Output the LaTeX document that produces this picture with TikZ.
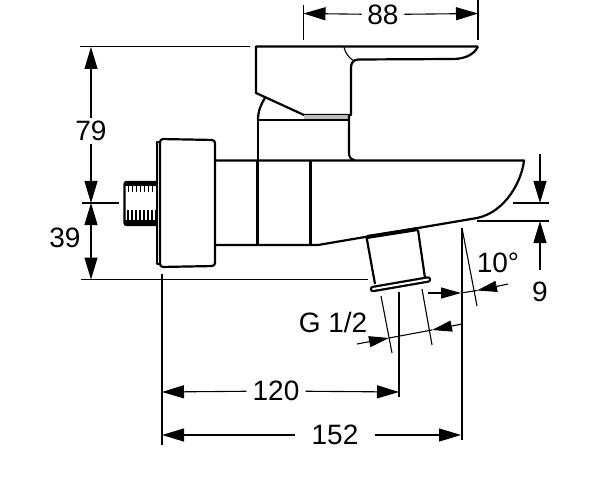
\documentclass[tikz,border=0pt]{standalone}
\usepackage{fontspec}
\setmainfont{Liberation Sans}
\usetikzlibrary{arrows.meta}
\tikzset{
  outline/.style={line width=2.2pt,line join=round},
  thinline/.style={line width=1.1pt},
  dimline/.style={line width=1.1pt,-{Triangle[length=22pt,width=13pt]}},
  smallarrow/.style={line width=1.1pt,-{Triangle[length=20pt,width=11pt]}},
  dimtext/.style={font=\fontsize{28}{28}\selectfont,inner sep=3pt}
}
\begin{document}
\begin{tikzpicture}[x=1pt,y=-1pt]
\useasboundingbox (0,0) rectangle (600,500);
% lever
\draw[outline] (478,46.5) -- (256,46.5) -- (256,93) -- (304,115) -- (351,115)
  -- (351,68) .. controls (351,63) and (353,60) .. (358,59.5) -- (453,59)
  .. controls (464,59) and (474,55) .. (478,46.5);
\draw[thinline] (344,47) .. controls (345,53) and (349,58) .. (354,61);
\draw[line width=1pt,fill=black!25] (304,115) -- (348,115) -- (348,120) -- (304,120);
% collar
\draw[outline] (265,98) .. controls (261,104) and (258,111) .. (258,120);
\draw[outline] (258,160) -- (258,120) -- (349,120);
\draw[outline] (349,115) -- (349,153) .. controls (349,157) and (351,160) .. (355,160);
% body
\draw[outline] (216,160.5) -- (524,160.5) .. controls (522,180) and (506,212) .. (477,218)
  -- (318,245) -- (216,245);
\draw[outline] (257.5,160) -- (257.5,245);
\draw[outline] (310.5,160) -- (310.5,245);
% flange
\draw[outline,rounded corners=3pt] (160,139) -- (215,140) -- (215,266) -- (160,267) -- cycle;
\draw[outline] (160,142) -- (157,142) -- (157,264) -- (160,264);
% connection thread
\draw[outline,rounded corners=2pt] (157,182) -- (124.5,182) -- (124.5,225) -- (157,225);
\fill (124.5,182) rectangle (157,185);
\fill (124.5,220) rectangle (157,225);
\foreach \x in {128,132,...,156}{
  \draw[line width=0.8pt] (\x,184) -- (\x,192);
  \draw[line width=1.6pt] (\x,210) -- (\x,221);
}
\draw[line width=1.4pt] (124.5,185) -- (157,185);
% spout outlet
\draw[outline] (366.5,237) -- (375,284);
\draw[outline] (418,230) -- (425,278);
\draw[line width=4pt] (367,237) -- (418,229);
\draw[line width=6.5pt,line cap=round] (373,289) -- (428,279.5);
\draw[line width=2pt,line cap=round,white] (373,289) -- (428,279.5);
% extension lines
\draw[thinline] (303.5,5) -- (303.5,40);
\draw[thinline] (478,0) -- (478,40);
\draw[thinline] (80,46.5) -- (250,46.5);
\draw[thinline] (82,203) -- (119,203);
\draw[line width=1.4pt] (81,279.5) -- (368,279.5);
\draw[thinline] (162,274) -- (162,445);
\draw[thinline] (399,292) -- (399,397);
\draw[thinline] (462,228) -- (462,440);
\draw[thinline] (462,228) -- (477,306);
\draw[thinline] (381,296) -- (392,353);
\draw[thinline] (422,289) -- (432,345);
\draw[thinline] (513,203) -- (549,203);
\draw[thinline] (477,221) -- (549,221);
% dimensions
\coordinate (l88) at (303.5,13.5);
\coordinate (r88) at (478,13.5);
\node[dimtext,inner xsep=5.5pt] (t88) at (383,14.5) {88};
\draw[dimline] (t88) -- (l88);
\draw[dimline] (t88) -- (r88);

\coordinate (a79) at (91,47);
\coordinate (b79) at (91,203);
\node[dimtext] (t79) at (91,131) {79};
\draw[dimline] (t79) -- (a79);
\draw[dimline] (t79) -- (b79);

\node[dimtext] (t39) at (65,238) {39};
\coordinate (m39) at (91,240);
\coordinate (b39) at (91,279.5);
\draw[dimline] (m39) -- (b79);
\draw[dimline] (m39) -- (b39);

\coordinate (l120) at (162,392);
\coordinate (r120) at (399,392);
\node[dimtext,inner xsep=6pt] (t120) at (276,391) {120};
\draw[dimline] (t120) -- (l120);
\draw[dimline] (t120) -- (r120);

\coordinate (l152) at (162,435);
\coordinate (r152) at (461,435);
\node[dimtext,inner xsep=16pt] (t152) at (335,435) {152};
\draw[dimline] (t152) -- (l152);
\draw[dimline] (t152) -- (r152);

% spout height
\coordinate (a9) at (540,154);
\coordinate (b9) at (540,203);
\coordinate (c9) at (540,270);
\coordinate (d9) at (540,221);
\draw[dimline] (a9) -- (b9);
\draw[dimline] (c9) -- (d9);
\node[dimtext] (t9) at (540,292) {9};

% angle
\coordinate (a10) at (428,293);
\coordinate (b10) at (461,293);
\coordinate (c10) at (508,284);
\coordinate (d10) at (477,290.5);
\draw[smallarrow] (a10) -- (b10);
\draw[smallarrow] (c10) -- (d10);
\draw[thinline] (b10) -- (d10);
\node[dimtext] (t10) at (498,263) {10°};

% thread size
\coordinate (a12) at (357,344);
\coordinate (b12) at (389,338);
\coordinate (c12) at (462,324);
\coordinate (d12) at (432,330);
\draw[smallarrow] (a12) -- (b12);
\draw[smallarrow] (c12) -- (d12);
\draw[thinline] (b12) -- (d12);
\node[dimtext] (t12) at (333,322) {G 1/2};
\end{tikzpicture}
\end{document}
